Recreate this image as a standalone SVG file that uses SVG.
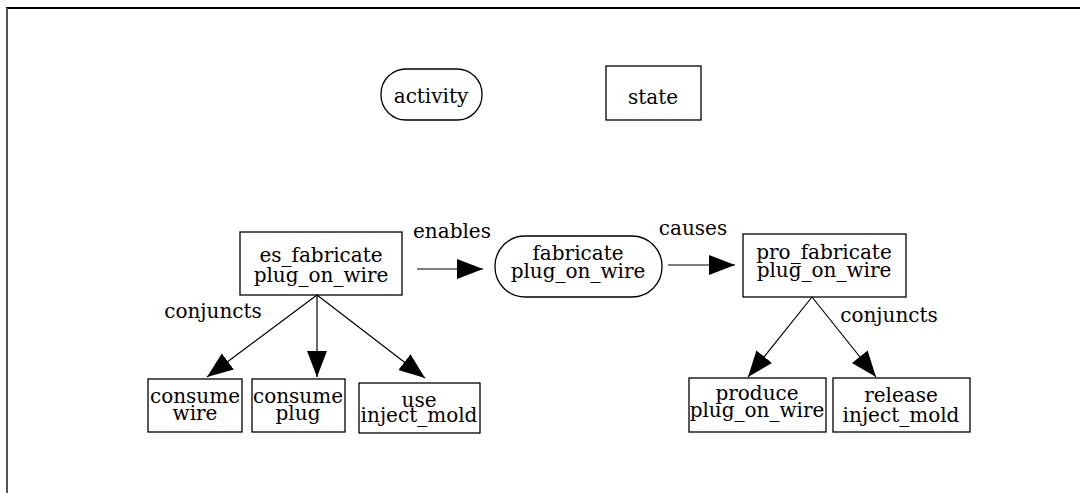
<svg xmlns="http://www.w3.org/2000/svg" width="1080" height="493" viewBox="0 0 1080 493">
<style>
.box{fill:#fff;stroke:#000;stroke-width:1.3}
.t{font-family:"DejaVu Serif","Liberation Serif",serif;font-size:20px;fill:#000;text-anchor:middle}
.c{stroke:#000;stroke-width:1.2;fill:none;marker-end:url(#ah)}
</style>
<defs>
<marker id="ah" markerUnits="userSpaceOnUse" markerWidth="27" markerHeight="20" refX="26" refY="10" orient="auto">
<path d="M0,0 L26,10 L0,20 z" fill="#000"/>
</marker>
</defs>
<rect width="1080" height="493" fill="#fff"/>
<line x1="6" y1="8" x2="1080" y2="8" stroke="#000" stroke-width="2"/>
<line x1="7" y1="8" x2="7" y2="493" stroke="#555" stroke-width="2"/>

<g id="legend-activity"><rect class="box" x="381" y="69" width="101" height="51" rx="25" ry="25"/><text class="t" x="431" y="103">activity</text></g>
<g id="legend-state"><rect class="box" x="606" y="66" width="95" height="54"/><text class="t" x="653" y="104">state</text></g>

<g id="es_fabricate"><rect class="box" x="240" y="232" width="162" height="63"/><text class="t" x="321" y="262">es_fabricate</text><text class="t" x="321" y="282">plug_on_wire</text></g>
<g id="fabricate"><rect class="box" x="495" y="236" width="167" height="61" rx="30" ry="30"/><text class="t" x="578" y="260">fabricate</text><text class="t" x="578" y="278">plug_on_wire</text></g>
<g id="pro_fabricate"><rect class="box" x="743" y="234" width="163" height="63"/><text class="t" x="824" y="259">pro_fabricate</text><text class="t" x="824" y="277">plug_on_wire</text></g>

<g id="consume_wire"><rect class="box" x="148" y="379" width="94" height="53"/><text class="t" x="195" y="403">consume</text><text class="t" x="195" y="420">wire</text></g>
<g id="consume_plug"><rect class="box" x="252" y="379" width="93" height="53"/><text class="t" x="298" y="403">consume</text><text class="t" x="298" y="420">plug</text></g>
<g id="use_inject_mold"><rect class="box" x="359" y="383" width="121" height="50"/><text class="t" x="419" y="407">use</text><text class="t" x="419" y="422">inject_mold</text></g>
<g id="produce"><rect class="box" x="689" y="378" width="137" height="54"/><text class="t" x="757" y="400">produce</text><text class="t" x="757" y="417">plug_on_wire</text></g>
<g id="release"><rect class="box" x="833" y="378" width="137" height="54"/><text class="t" x="901" y="402">release</text><text class="t" x="901" y="422">inject_mold</text></g>

<g id="connectors">
<line class="c" x1="417" y1="269" x2="483" y2="269"/>
<line class="c" x1="668" y1="265" x2="735" y2="265"/>
<line class="c" x1="317" y1="295" x2="207" y2="377"/>
<line class="c" x1="317" y1="295" x2="317" y2="377"/>
<line class="c" x1="317" y1="295" x2="425" y2="378"/>
<line class="c" x1="812" y1="297" x2="748" y2="377"/>
<line class="c" x1="812" y1="297" x2="876" y2="377"/>
<text class="t" x="452" y="238">enables</text>
<text class="t" x="693" y="235">causes</text>
<text class="t" x="213" y="318">conjuncts</text>
<text class="t" x="889" y="322">conjuncts</text>
</g>
</svg>
